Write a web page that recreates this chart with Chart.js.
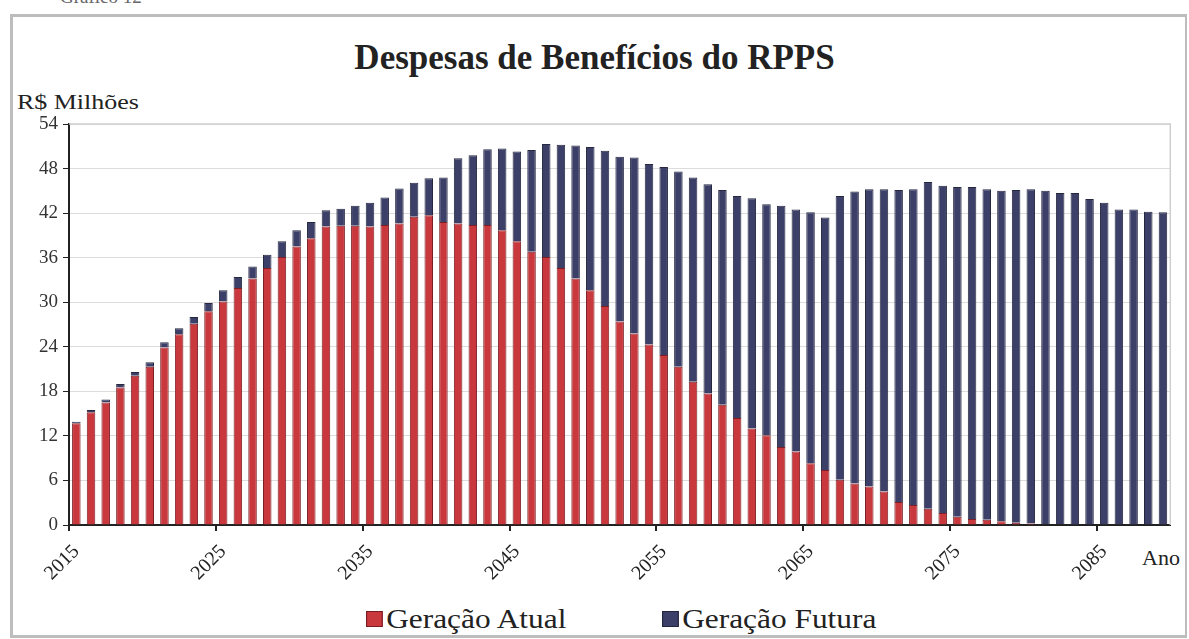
<!DOCTYPE html>
<html>
<head>
<meta charset="utf-8">
<script src="https://cdn.jsdelivr.net/npm/chart.js"></script>
<style>
  html,body{margin:0;padding:0;background:#fff;}
  #wrap{position:relative;width:1189px;height:639px;overflow:hidden;font-family:'Liberation Serif','DejaVu Serif',serif;color:#222;}
  #frame{position:absolute;left:10px;top:14px;width:1172px;height:618px;border:3px solid #bdbdbd;border-right-width:2px;}
  #cap{position:absolute;left:60px;top:-14px;font-size:19px;color:#666;}
  #title{position:absolute;left:0;width:1189px;top:38px;text-align:center;font-size:35px;font-weight:bold;color:#222;}
  #unit{position:absolute;left:17px;top:89px;font-size:22px;transform:scaleX(1.18);transform-origin:left top;}
  #ano{position:absolute;left:1142px;top:545px;font-size:22px;}
  .leg{position:absolute;top:603px;font-size:28px;white-space:nowrap;transform:scaleX(1.12);transform-origin:left top;}
  .leg span{display:inline-block;width:13px;height:14px;margin-right:3px;vertical-align:1px;}
  canvas{position:absolute;left:0;top:0;}
</style>
</head>
<body>
<div id="wrap">
  <div id="frame"></div>
  <div id="cap">Gráfico 12</div>
  <div id="title">Despesas de Benefícios do RPPS</div>
  <div id="unit">R$ Milhões</div>
  <div id="ano">Ano</div>
  <div class="leg" style="left:366px"><span style="background:#c8383d;border:1px solid #7a1d22"></span>Geração Atual</div>
  <div class="leg" style="left:662px"><span style="background:#3c4068;border:1px solid #23253d"></span>Geração Futura</div>
  <canvas id="c" width="1189" height="639"></canvas>
</div>
<script>
// anos 2015..2089
const anos = [];
for (let a = 2015; a <= 2089; a++) anos.push(String(a));

// R$ milhões
const geracaoAtual = [
  13.7, 15.2, 16.5, 18.5, 20.1, 21.3, 23.9, 25.7, 27.1, 28.8,
  30.1, 31.9, 33.2, 34.6, 36.1, 37.5, 38.6, 40.2, 40.3, 40.3,
  40.2, 40.4, 40.6, 41.5, 41.7, 40.8, 40.6, 40.4, 40.4, 39.7,
  38.2, 36.8, 36.1, 34.6, 33.2, 31.6, 29.5, 27.4, 25.8, 24.3,
  22.9, 21.3, 19.3, 17.7, 16.2, 14.4, 13.0, 12.1, 10.5, 9.9,
  8.3, 7.4, 6.1, 5.6, 5.2, 4.5, 3.1, 2.7, 2.2, 1.6,
  1.1, 0.8, 0.7, 0.5, 0.3, 0.2, 0.1, 0.1, 0, 0,
  0, 0, 0, 0, 0
];
const geracaoFutura = [
  0.2, 0.3, 0.4, 0.5, 0.5, 0.6, 0.7, 0.8, 0.9, 1.1,
  1.5, 1.5, 1.6, 1.8, 2.1, 2.2, 2.2, 2.2, 2.3, 2.7,
  3.2, 3.7, 4.7, 4.6, 5.0, 6.0, 8.8, 9.4, 10.2, 11.0,
  12.1, 13.7, 15.2, 16.6, 17.9, 19.3, 20.9, 22.2, 23.7, 24.3,
  25.3, 26.3, 27.5, 28.2, 28.9, 29.9, 31.0, 31.1, 32.5, 32.6,
  33.8, 34.0, 38.2, 39.3, 40.0, 40.7, 42.0, 42.5, 44.0, 44.1,
  44.4, 44.7, 44.5, 44.5, 44.8, 45.0, 44.9, 44.6, 44.7, 43.9,
  43.4, 42.5, 42.5, 42.2, 42.1
];
const yTicks = [0, 6, 12, 18, 24, 30, 36, 42, 48, 54];

const serif = "'Liberation Serif', 'DejaVu Serif', serif";

new Chart(document.getElementById('c'), {
  type: 'bar',
  data: {
    labels: anos,
    datasets: [
      {label:'Geração Atual', data:geracaoAtual, backgroundColor:'#c8383d', borderColor:'#7d1f24', borderWidth:1},
      {label:'Geração Futura', data:geracaoFutura, backgroundColor:'#3c4068', borderColor:'#262840', borderWidth:1}
    ]
  },
  options: {
    responsive:false, animation:false,
    layout:{padding:{left:0, right:12, top:124, bottom:0}},
    datasets:{bar:{categoryPercentage:1, barPercentage:0.58}},
    plugins:{legend:{display:false}, title:{display:false}, tooltip:{enabled:false}},
    scales:{
      x:{
        stacked:true, offset:true,
        border:{display:true, color:'#222', width:2},
        grid:{
          offset:true, drawOnChartArea:false, drawTicks:true, tickLength:6, lineWidth:2,
          color:(ctx)=> (ctx.index % 10 === 0 ? '#222' : 'rgba(0,0,0,0)')
        },
        ticks:{
          autoSkip:false, minRotation:45, maxRotation:45, padding:9,
          font:{family:serif, size:20}, color:'#222',
          callback:(v,i)=> (i % 10 === 0 ? anos[i] : '')
        },
        afterFit:(s)=>{ s.height = 114; }
      },
      y:{
        stacked:true, min:0, max:54,
        border:{display:true, color:'#222', width:2},
        grid:{color:'#dcdcdc', tickLength:6, tickColor:'#222', lineWidth:1},
        afterBuildTicks:(s)=>{ s.ticks = yTicks.map(v=>({value:v})); },
        ticks:{font:{family:serif, size:19}, color:'#333', padding:5},
        afterFit:(s)=>{ s.width = 69; }
      }
    }
  },
  plugins:[{
    id:'plotBorder',
    afterDraw(chart){
      const {ctx, chartArea:a} = chart;
      ctx.save();
      ctx.strokeStyle = '#cfcfcf'; ctx.lineWidth = 1.5;
      ctx.beginPath();
      ctx.moveTo(a.left, a.top); ctx.lineTo(a.right, a.top); ctx.lineTo(a.right, a.bottom);
      ctx.stroke();
      ctx.restore();
    }
  }]
});
</script>
</body>
</html>
